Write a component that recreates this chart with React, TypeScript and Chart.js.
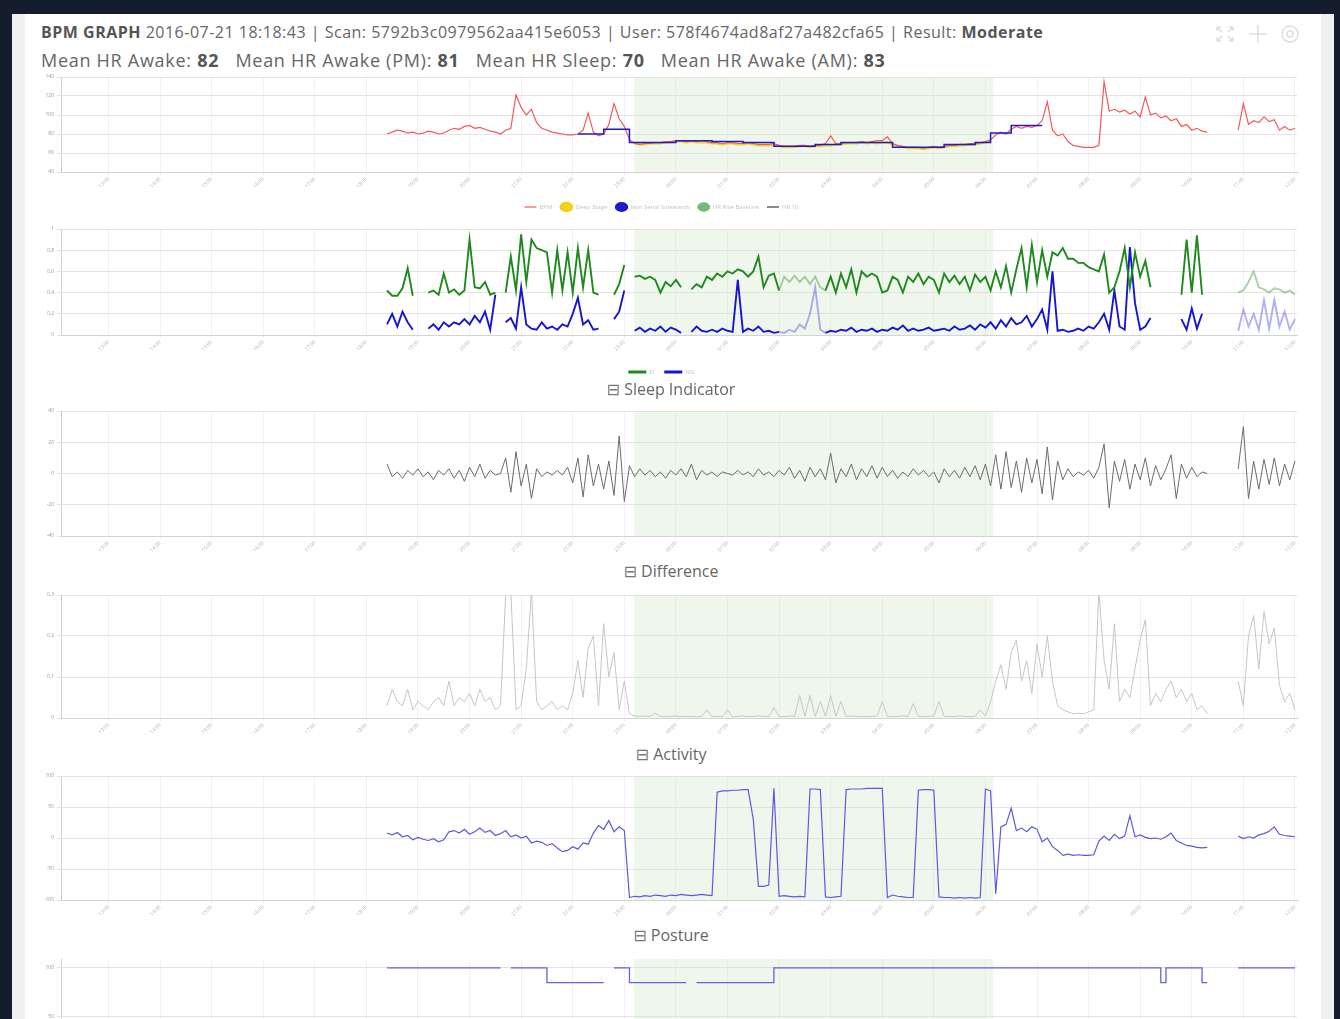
import React, { useEffect, useRef } from 'react';
import { Chart, registerables } from 'chart.js';

Chart.register(...registerables);
const FONT = "'Open Sans', 'DejaVu Sans', sans-serif";
Chart.defaults.font.family = FONT;

const N = null;

// ---------- x axis (hours) ----------
const HOUR_TICKS = [0, 1, 2, 3, 4, 5, 6, 7, 8, 9, 10, 11, 12, 13, 14, 15, 16, 17, 18, 19, 20, 21, 22, 23];
const HOUR_LABELS = ['13:00', '14:00', '15:00', '16:00', '17:00', '18:00', '19:00', '20:00', '21:00', '22:00', '23:00', '00:00',
  '01:00', '02:00', '03:00', '04:00', '05:00', '06:00', '07:00', '08:00', '09:00', '10:00', '11:00', '12:00'];
const X_MIN = -0.92;
const X_MAX = 23.04;
const SLEEP_START = 10.19;
const SLEEP_END = 17.15;
const SAMPLE_START = 5.4;
const SAMPLE_STEP = 0.1;
const FADED_RANGES = [[12.95, 13.85], [21.85, 23.2]];

// ---------- BPM chart ----------
const BPM = [
  80, 82, 84, 83, 81, 82, 80, 81, 83, 82,
  80, 81, 84, 86, 85, 88, 89, 86, 87, 85,
  83, 82, 80, 84, 86, 121, 108, 100, 106, 92,
  86, 84, 82, 81, 80, 79, 79, 80, 84, 102,
  82, 78, 80, 90, 112, 96, 88, 74, 70, 69,
  70, 70, 71, 71, 72, 72, 73, 73, 72, 73,
  72, 73, 72, 71, 71, 70, 71, 71, 70, 70,
  71, 70, 69, 69, 69, 70, 68, 67, 67, 67,
  68, 68, 67, 68, 68, 70, 78, 70, 70, 71,
  71, 71, 72, 71, 72, 73, 73, 77, 70, 68,
  67, 66, 66, 66, 65, 66, 67, 66, 67, 68,
  68, 69, 69, 70, 70, 71, 72, 74, 79, 82,
  80, 85, 88, 86, 88, 87, 89, 94, 114, 84,
  78, 80, 72, 68, 67, 66, 66, 66, 68, 135,
  104, 106, 103, 105, 101, 104, 98, 119, 100, 102,
  97, 99, 94, 96, 88, 90, 84, 86, 83, 82,
  N, N, N, N, N, 84, 112, 90, 94, 92,
  98, 93, 95, 84, 88, 84, 86,
];
const SLEEP_STAGE = [
  N, N, N, N, N, N, N, N, N, N,
  N, N, N, N, N, N, N, N, N, N,
  N, N, N, N, N, N, N, N, N, N,
  N, N, N, N, N, N, N, N, N, N,
  N, N, N, N, N, N, N, N, 70, 69,
  69, 70, 70, 70, 71, 71, 72, 72, 71, 72,
  71, 71, 71, 70, 70, 69, 70, 70, 69, 69,
  70, 69, 68, 68, 68, 69, 67, 66, 66, 66,
  67, 67, 66, 67, 67, 68, 68, 69, 69, 70,
  70, 70, 71, 70, 71, 70, 71, 71, 69, 67,
  66, 65, 65, 65, 64, 65, 66, 65, 66, 67,
  67, 68, 68, 69, 69, 70, 71, 72, N, N,
];
const HR_BASELINE = [
  N, N, N, N, N, N, N, N, N, N,
  N, N, N, N, N, N, N, N, N, N,
  N, N, N, N, N, N, N, N, N, N,
  N, N, N, N, N, N, N, 80, 80, 80,
  80, 80, 80, 85, 85, 85, 85, 85, 71, 71,
  71, 71, 71, 71, 71, 71, 71, 73, 73, 73,
  73, 73, 73, 73, 72, 72, 72, 72, 72, 72,
  71, 71, 71, 71, 71, 71, 67, 67, 67, 67,
  67, 67, 67, 67, 69, 69, 69, 69, 69, 71,
  71, 71, 71, 71, 71, 71, 71, 71, 71, 66,
  66, 66, 66, 66, 66, 66, 66, 66, 66, 69,
  69, 69, 69, 69, 69, 71, 71, 71, 81, 81,
  81, 81, 89, 89, 89, 89, 89, 89, N, N,
];
const BPM_TICKS = [40, 60, 80, 100, 120, 140];

// ---------- Sleep indicator ----------
const SI = [
  0.42, 0.37, 0.37, 0.44, 0.63, 0.37, N, N, 0.4, 0.42,
  0.38, 0.58, 0.4, 0.43, 0.38, 0.42, 0.9, 0.45, 0.44, 0.5,
  0.38, 0.4, N, 0.4, 0.74, 0.42, 0.95, 0.5, 0.9, 0.82,
  0.8, 0.78, 0.4, 0.8, 0.42, 0.78, 0.4, 0.82, 0.45, 0.8,
  0.4, 0.38, N, N, 0.38, 0.48, 0.66, N, 0.55, 0.56,
  0.53, 0.55, 0.52, 0.4, 0.5, 0.46, 0.52, 0.45, N, 0.43,
  0.48, 0.45, 0.55, 0.52, 0.58, 0.55, 0.6, 0.58, 0.62, 0.6,
  0.55, 0.6, 0.74, 0.45, 0.56, 0.58, 0.42, 0.55, 0.5, 0.56,
  0.5, 0.55, 0.48, 0.55, 0.45, 0.42, 0.55, 0.4, 0.58, 0.45,
  0.62, 0.4, 0.6, 0.55, 0.58, 0.55, 0.4, 0.42, 0.55, 0.52,
  0.4, 0.55, 0.5, 0.58, 0.48, 0.55, 0.52, 0.4, 0.58, 0.5,
  0.56, 0.48, 0.55, 0.42, 0.57, 0.5, 0.55, 0.42, 0.6, 0.45,
  0.65, 0.4, 0.62, 0.82, 0.45, 0.85, 0.5, 0.8, 0.55, 0.78,
  0.75, 0.82, 0.72, 0.72, 0.68, 0.68, 0.64, 0.62, 0.6, 0.76,
  0.4, 0.45, 0.6, 0.82, 0.45, 0.78, 0.55, 0.7, 0.45, N,
  N, N, N, N, 0.38, 0.9, 0.4, 0.94, 0.38, N,
  N, N, N, N, N, 0.4, 0.42, 0.5, 0.6, 0.45,
  0.43, 0.4, 0.44, 0.43, 0.4, 0.42, 0.38,
];
const NSI = [
  0.1, 0.2, 0.08, 0.22, 0.12, 0.05, N, N, 0.06, 0.1,
  0.05, 0.12, 0.08, 0.12, 0.1, 0.15, 0.1, 0.18, 0.12, 0.22,
  0.05, 0.38, N, 0.12, 0.16, 0.06, 0.45, 0.1, 0.06, 0.05,
  0.12, 0.06, 0.08, 0.05, 0.1, 0.08, 0.2, 0.35, 0.1, 0.14,
  0.05, 0.06, N, N, 0.15, 0.22, 0.42, N, 0.04, 0.07,
  0.03, 0.06, 0.04, 0.08, 0.03, 0.07, 0.05, 0.02, N, 0.03,
  0.08, 0.04, 0.03, 0.05, 0.03, 0.06, 0.04, 0.03, 0.52, 0.03,
  0.06, 0.04, 0.08, 0.03, 0.04, 0.02, 0.03, 0.02, 0.05, 0.03,
  0.1, 0.06, 0.2, 0.45, 0.05, 0.02, 0.04, 0.03, 0.05, 0.04,
  0.07, 0.03, 0.05, 0.04, 0.06, 0.03, 0.05, 0.04, 0.07, 0.05,
  0.09, 0.04, 0.06, 0.04, 0.05, 0.07, 0.04, 0.05, 0.06, 0.04,
  0.08, 0.05, 0.06, 0.09, 0.05, 0.1, 0.07, 0.12, 0.06, 0.14,
  0.08, 0.16, 0.1, 0.12, 0.18, 0.08, 0.15, 0.24, 0.05, 0.6,
  0.04, 0.05, 0.03, 0.04, 0.06, 0.04, 0.08, 0.06, 0.12, 0.2,
  0.05, 0.42, 0.08, 0.05, 0.83, 0.3, 0.05, 0.08, 0.16, N,
  N, N, N, N, 0.15, 0.05, 0.25, 0.06, 0.2, N,
  N, N, N, N, N, 0.04, 0.24, 0.08, 0.2, 0.05,
  0.33, 0.06, 0.33, 0.08, 0.22, 0.05, 0.15,
];
const SI_TICKS = [0, 0.2, 0.4, 0.6, 0.8, 1];

// ---------- Difference ----------
const DIFF = [
  6, -2, 1, -3, 2, -1, 3, -2, 1, -4,
  2, -1, 3, -3, 2, -5, 4, -2, 6, -3,
  2, -1, 0, 10, -12, 14, -8, 6, -16, 3,
  -2, 1, -1, 2, -1, 4, -6, 10, -15, 12,
  -8, 6, -10, 8, -14, 24, -18, 5, -2, 3,
  -1, 2, -2, 1, -3, 2, -1, 3, -2, 6,
  -4, 2, -1, 1, -2, 1, 0, -1, 2, -1,
  1, -2, 3, -1, 1, -2, 2, -1, 4, -3,
  2, -5, 4, -2, 3, -4, 13, -6, 3, -2,
  6, -4, 3, -2, 5, -3, 4, -2, 2, -3,
  1, -2, 3, -1, 2, -2, 1, -6, 3, -2,
  2, -3, 4, -2, 5, -4, 6, -8, 12, -10,
  14, -9, 8, -12, 10, -6, 9, -13, 17, -17,
  8, -4, 3, -2, 1, -1, 2, -3, 4, 19,
  -22, 8, -5, 9, -10, 6, -4, 10, -8, 5,
  -4, 3, 12, -16, 6, -3, 4, -2, 1, 0,
  N, N, N, N, N, 3, 30, -16, 8, -10,
  9, -7, 10, -8, 6, -4, 8,
];
const DIFF_TICKS = [-40, -20, 0, 20, 40];

// ---------- Activity ----------
const ACTIVITY = [
  0.03, 0.07, 0.04, 0.03, 0.07, 0.02, 0.04, 0.03, 0.02, 0.04,
  0.05, 0.03, 0.09, 0.03, 0.05, 0.04, 0.06, 0.03, 0.07, 0.04,
  0.05, 0.02, 0.03, 0.3, 0.31, 0.02, 0.03, 0.12, 0.31, 0.04,
  0.02, 0.03, 0.04, 0.02, 0.03, 0.02, 0.06, 0.14, 0.05, 0.17,
  0.2, 0.03, 0.23, 0.1, 0.16, 0.02, 0.09, 0.01, 0.005, 0.004,
  0.005, 0.004, 0.012, 0.004, 0.003, 0.004, 0.005, 0.003, 0.004, 0.004,
  0.003, 0.004, 0.02, 0.003, 0.004, 0.003, 0.02, 0.003, 0.004, 0.005,
  0.003, 0.004, 0.005, 0.004, 0.003, 0.025, 0.004, 0.003, 0.005, 0.004,
  0.055, 0.004, 0.055, 0.004, 0.04, 0.004, 0.055, 0.004, 0.04, 0.004,
  0.005, 0.004, 0.003, 0.004, 0.004, 0.005, 0.04, 0.004, 0.003, 0.004,
  0.005, 0.004, 0.035, 0.004, 0.003, 0.004, 0.005, 0.04, 0.004, 0.003,
  0.004, 0.005, 0.004, 0.003, 0.004, 0.02, 0.005, 0.04, 0.09, 0.13,
  0.07, 0.16, 0.19, 0.09, 0.14, 0.06, 0.18, 0.1, 0.2, 0.09,
  0.03, 0.02, 0.015, 0.01, 0.012, 0.01, 0.015, 0.02, 0.31, 0.14,
  0.07, 0.23, 0.04, 0.07, 0.05, 0.12, 0.19, 0.24, 0.03, 0.06,
  0.04, 0.07, 0.09, 0.05, 0.07, 0.04, 0.06, 0.02, 0.03, 0.01,
  N, N, N, N, N, 0.09, 0.03, 0.2, 0.25, 0.12,
  0.26, 0.18, 0.22, 0.08, 0.04, 0.06, 0.02,
];
const ACT_TICKS = [0, 0.1, 0.2, 0.3];

// ---------- Posture ----------
const POSTURE = [
  8, 5, 9, 2, 4, -3, 1, -2, -4, -1,
  -6, -3, 10, 12, 8, 14, 6, 10, 16, 9,
  12, 4, 7, 12, 2, 5, 0, 3, -8, -5,
  -7, -12, -9, -16, -22, -20, -14, -18, -8, -10,
  8, 20, 14, 28, 10, 18, 12, -96, -94, -95,
  -93, -94, -92, -93, -94, -92, -93, -91, -92, -93,
  -92, -91, -92, -93, 74, 76, 76, 77, 77, 78,
  78, 30, -78, -78, -76, 80, -94, -93, -94, -95,
  -94, -95, 79, 79, 78, -95, -96, -95, -94, 78,
  79, 79, 79, 80, 80, 80, 80, -96, -92, -94,
  -95, -96, -96, 77, 78, 78, 77, -95, -96, -96,
  -97, -96, -97, -96, -97, -96, 79, 76, -90, 18,
  22, 48, 12, 16, 10, 18, 14, -6, 0, -14,
  -20, -28, -26, -28, -27, -28, -28, -27, -5, 3,
  -4, 6, -1, 3, 36, 2, 5, 1, -1, 0,
  -2, 2, 8, -4, -8, -12, -13, -15, -16, -15,
  N, N, N, N, N, 3, -1, 2, 0, 5,
  7, 11, 18, 6, 4, 3, 2,
];
const POSTURE_TICKS = [-100, -50, 0, 50, 100];

// ---------- Position (last chart) ----------
const POSITION = [
  100, 100, 100, 100, 100, 100, 100, 100, 100, 100,
  100, 100, 100, 100, 100, 100, 100, 100, 100, 100,
  100, 100, 100, N, 100, 100, 100, 100, 100, 100,
  100, 100, 85, 85, 85, 85, 85, 85, 85, 85,
  85, 85, 85, N, 100, 100, 100, 100, 85, 85,
  85, 85, 85, 85, 85, 85, 85, 85, 85, N,
  85, 85, 85, 85, 85, 85, 85, 85, 85, 85,
  85, 85, 85, 85, 85, 85, 100, 100, 100, 100,
  100, 100, 100, 100, 100, 100, 100, 100, 100, 100,
  100, 100, 100, 100, 100, 100, 100, 100, 100, 100,
  100, 100, 100, 100, 100, 100, 100, 100, 100, 100,
  100, 100, 100, 100, 100, 100, 100, 100, 100, 100,
  100, 100, 100, 100, 100, 100, 100, 100, 100, 100,
  100, 100, 100, 100, 100, 100, 100, 100, 100, 100,
  100, 100, 100, 100, 100, 100, 100, 100, 100, 100,
  100, 85, 100, 100, 100, 100, 100, 100, 100, 85,
  N, N, N, N, N, 100, 100, 100, 100, 100,
  100, 100, 100, 100, 100, 100, 100,
];
const POSITION_TICKS = [0, 50, 100];

// ---------- helpers ----------
const TIMES = BPM.map((_, i) => SAMPLE_START + SAMPLE_STEP * i);
const pts = (arr: (number | null)[]) => arr.map((v, i) => ({ x: TIMES[i], y: v }));
const inFaded = (x: number) => FADED_RANGES.some(([a, b]) => x >= a && x < b);
const commaFmt = (v: any) => String(v).replace('.', ',');

const sleepBand = {
  id: 'sleepBand',
  beforeDatasetsDraw(chart: any) {
    const { ctx, chartArea: a, scales } = chart;
    const x0 = scales.x.getPixelForValue(SLEEP_START);
    const x1 = scales.x.getPixelForValue(SLEEP_END);
    ctx.save();
    ctx.fillStyle = 'rgba(206,232,200,0.33)';
    ctx.fillRect(x0, a.top, x1 - x0, a.bottom - a.top);
    ctx.restore();
  },
};

function makeOptions(yTicks: number[], yMin: number, yMax: number, legend: any, fmt: any = commaFmt) {
  return {
    animation: false,
    responsive: false,
    maintainAspectRatio: false,
    events: [],
    layout: { padding: { top: 7, right: 13, left: 0, bottom: 0 } },
    plugins: {
      legend: legend || { display: false },
      title: { display: false },
      tooltip: { enabled: false },
    },
    scales: {
      x: {
        type: 'linear',
        min: X_MIN,
        max: X_MAX,
        afterBuildTicks: (s: any) => { s.ticks = HOUR_TICKS.map((v) => ({ value: v })); },
        afterFit: (s: any) => { s.height = 24; },
        ticks: {
          autoSkip: false,
          minRotation: 45,
          maxRotation: 45,
          padding: 1,
          font: { size: 5 },
          color: '#b0b0b0',
          callback: (v: any) => { const k = HOUR_TICKS.indexOf(v); return k >= 0 ? HOUR_LABELS[k] : ''; },
        },
        grid: { color: '#f1f1f1', tickLength: 3 },
        border: { color: '#d4d4d4' },
      },
      y: {
        min: yMin,
        max: yMax,
        afterBuildTicks: (s: any) => { s.ticks = yTicks.map((v) => ({ value: v })); },
        afterFit: (s: any) => { s.width = 35; },
        ticks: { font: { size: 5 }, color: '#999', padding: 3, callback: fmt },
        grid: { color: '#e4e4e4', tickLength: 4 },
        border: { color: '#cfcfcf' },
      },
    },
  };
}

const legendBase = (padding: number, extra: any = {}) => ({
  display: true,
  position: 'bottom',
  labels: {
    usePointStyle: true,
    pointStyleWidth: 12,
    boxHeight: 6,
    font: { size: 6 },
    color: '#c4c4c4',
    padding,
    sort: (a: any, b: any) => a.datasetIndex - b.datasetIndex,
    ...extra,
  },
});

const lineDs = (label: string, data: any[], color: string, width: number, more: any = {}) => ({
  label,
  data: pts(data),
  borderColor: color,
  backgroundColor: color,
  borderWidth: width,
  pointRadius: 0,
  tension: 0,
  spanGaps: false,
  fill: false,
  ...more,
});

const fadedSegment = (faded: string) => ({
  borderColor: (ctx: any) => (inFaded(ctx.p0.parsed.x) ? faded : undefined),
});

const configs: Record<string, () => any> = {
  bpm: () => ({
    type: 'line',
    data: {
      datasets: [
        lineDs('BPM', BPM, '#f25a5a', 1.2, { pointStyle: 'line', order: 1 }),
        lineDs('Sleep Stage', SLEEP_STAGE, '#f2d21a', 2, { pointStyle: 'circle', order: 2 }),
        lineDs('Non Serial Sidewards', HR_BASELINE, '#1c1cc8', 1.5, { pointStyle: 'circle', stepped: 'after', order: 0 }),
        lineDs('HR Rise Baseline', [], '#7bb77b', 1, { pointStyle: 'circle', order: 3 }),
        lineDs('HR 10', [], '#8a8a8a', 2, { pointStyle: 'line', order: 4 }),
      ],
    },
    options: makeOptions(BPM_TICKS, 40, 140, legendBase(8)),
    plugins: [sleepBand],
  }),
  si: () => ({
    type: 'line',
    data: {
      datasets: [
        lineDs('SI', SI, '#1e8a1e', 1.9, { pointStyle: 'line', segment: fadedSegment('rgba(30,138,30,0.38)') }),
        lineDs('NSI', NSI, '#1616d2', 1.9, { pointStyle: 'line', segment: fadedSegment('rgba(60,60,220,0.4)') }),
      ],
    },
    options: makeOptions(SI_TICKS, 0, 1, legendBase(10, {
      pointStyleWidth: 18,
      generateLabels: (chart: any) =>
        Chart.defaults.plugins.legend.labels.generateLabels(chart).map((l: any) => ({ ...l, lineWidth: 3 })),
    })),
    plugins: [sleepBand],
  }),
  diff: () => ({
    type: 'line',
    data: { datasets: [lineDs('Difference', DIFF, '#6b6b6b', 1)] },
    options: makeOptions(DIFF_TICKS, -40, 40, null),
    plugins: [sleepBand],
  }),
  act: () => ({
    type: 'line',
    data: { datasets: [lineDs('Activity', ACTIVITY, '#c6c6c6', 1)] },
    options: makeOptions(ACT_TICKS, 0, 0.3, null),
    plugins: [sleepBand],
  }),
  posture: () => ({
    type: 'line',
    data: { datasets: [lineDs('Posture', POSTURE, '#5a5ae0', 1.2)] },
    options: makeOptions(POSTURE_TICKS, -100, 100, null),
    plugins: [sleepBand],
  }),
  position: () => ({
    type: 'line',
    data: { datasets: [lineDs('Position', POSITION, '#6262e2', 1.3, { stepped: 'after' })] },
    options: makeOptions(POSITION_TICKS, 0, 109, null),
    plugins: [sleepBand],
  }),
};

function ChartCanvas({ top, height, name }: { top: number; height: number; name: string }) {
  const ref = useRef<HTMLCanvasElement | null>(null);
  useEffect(() => {
    const chart = new Chart(ref.current as HTMLCanvasElement, configs[name]());
    return () => chart.destroy();
  }, [name]);
  return (
    <canvas
      ref={ref}
      width={1284}
      height={height}
      style={{ position: 'absolute', left: 26, top, width: 1284, height }}
    />
  );
}

function Title({ top, text }: { top: number; text: string }) {
  return (
    <div style={{
      position: 'absolute', left: 0, width: 1342, top, textAlign: 'center',
      fontSize: 16, lineHeight: '18px', color: '#666', fontFamily: FONT, whiteSpace: 'nowrap',
    }}>
      <span style={{ fontFamily: "'DejaVu Sans', sans-serif", fontSize: 16, color: '#777' }}>⊟</span> {text}
    </div>
  );
}

export default function App() {
  return (
    <div style={{ position: 'fixed', left: 0, top: 0, width: 1340, height: 1019, background: '#141d2b', overflow: 'hidden' }}>
      <div style={{ position: 'absolute', left: 12, top: 14, width: 1322, height: 1010, background: '#eef0f2' }} />
      <div style={{ position: 'absolute', left: 25, top: 14, width: 1296, height: 1010, background: '#ffffff' }} />
      <div style={{
        position: 'absolute', left: 41, top: 22, fontSize: 16, lineHeight: '20px', color: '#666',
        fontFamily: FONT, whiteSpace: 'nowrap', letterSpacing: 0.5,
      }}>
        <b style={{ color: '#555' }}>BPM GRAPH</b> 2016-07-21 18:18:43 | Scan: 5792b3c0979562aa415e6053 | User: 578f4674ad8af27a482cfa65 | Result: <b style={{ color: '#555' }}>Moderate</b>
      </div>
      <div style={{
        position: 'absolute', left: 41, top: 49, fontSize: 18, lineHeight: '22px', color: '#666',
        fontFamily: FONT, whiteSpace: 'nowrap', letterSpacing: 0.72,
      }}>
        Mean HR Awake: <b style={{ color: '#555' }}>82</b>&nbsp;&nbsp; Mean HR Awake (PM): <b style={{ color: '#555' }}>81</b>&nbsp;&nbsp; Mean HR Sleep: <b style={{ color: '#555' }}>70</b>&nbsp;&nbsp; Mean HR Awake (AM): <b style={{ color: '#555' }}>83</b>
      </div>
      <svg style={{ position: 'absolute', left: 1214, top: 24 }} width={92} height={22}>
        <g stroke="#dedede" strokeWidth={1.5} fill="none">
          <path d="M3 3 L8 8 M3 3 L3 7 M3 3 L7 3 M19 3 L14 8 M19 3 L15 3 M19 3 L19 7 M3 17 L8 12 M3 17 L3 13 M3 17 L7 17 M19 17 L14 12 M19 17 L19 13 M19 17 L15 17" />
          <path d="M44 1 L44 19 M35 10 L53 10" />
          <circle cx={76} cy={10} r={8} />
          <circle cx={76} cy={10} r={3} />
        </g>
      </svg>

      <ChartCanvas name="bpm" top={70} height={150} />
      <ChartCanvas name="si" top={222} height={163} />
      <Title top={380} text="Sleep Indicator" />
      <ChartCanvas name="diff" top={404} height={156} />
      <Title top={562} text="Difference" />
      <ChartCanvas name="act" top={588} height={154} />
      <Title top={745} text="Activity" />
      <ChartCanvas name="posture" top={769} height={155} />
      <Title top={926} text="Posture" />
      <ChartCanvas name="position" top={952} height={138} />
    </div>
  );
}
